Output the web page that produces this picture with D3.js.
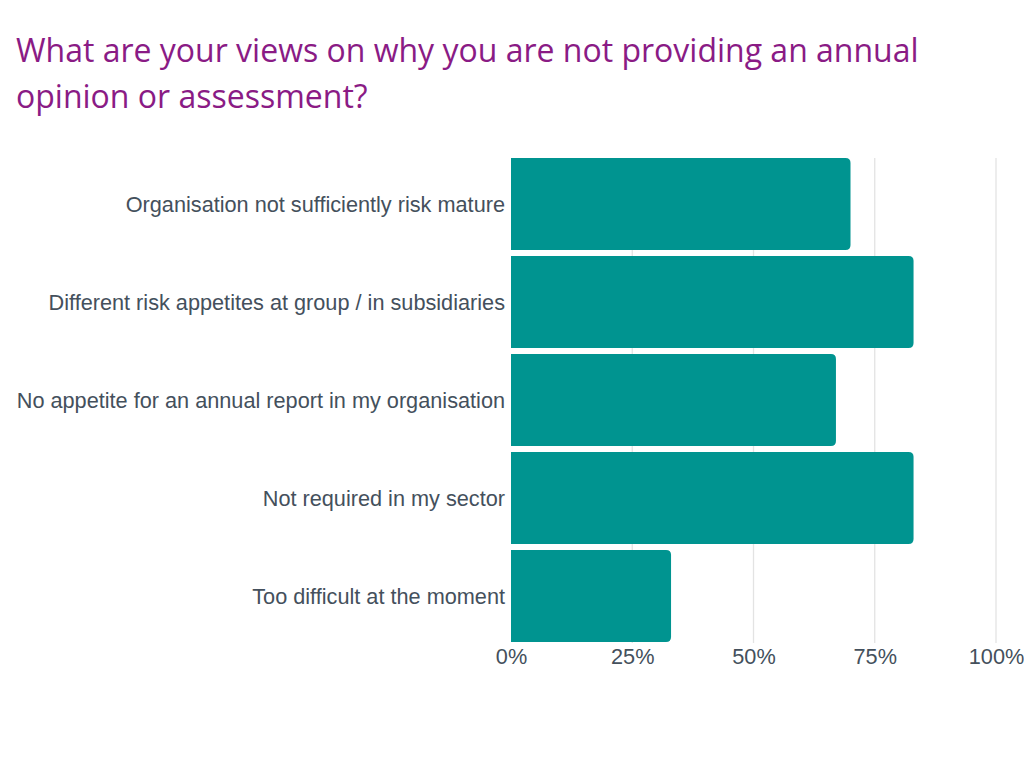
<!DOCTYPE html>
<html><head><meta charset="utf-8">
<script src="https://cdn.jsdelivr.net/npm/d3@7"></script>
<style>body{margin:0;background:#fff;} svg{display:block;}</style>
</head><body>
<svg id="c" width="1024" height="768"></svg>
<script>
const categories = [
  "Organisation not sufficiently risk mature",
  "Different risk appetites at group / in subsidiaries",
  "No appetite for an annual report in my organisation",
  "Not required in my sector",
  "Too difficult at the moment"
];
const values = [70, 83, 67, 83, 33];
const ticks = [0, 25, 50, 75, 100];
const titleLines = ["What are your views on why you are not providing an annual", "opinion or assessment?"];

const svg = d3.select("#c");
const m = {left: 511, right: 996, top: 158, bottom: 643};
const x = d3.scaleLinear().domain([0, 100]).range([m.left, m.right]);
const y = d3.scaleBand().domain(categories).range([m.top, 642]).paddingInner(0.0612).paddingOuter(0);

svg.append("g").selectAll("text").data(titleLines).join("text")
  .attr("x", 16).attr("y", (d, i) => 62 + i * 46)
  .attr("font-family", "'Open Sans', sans-serif").attr("font-size", 32)
  .attr("fill", "#8a1b85").text(d => d);

svg.append("g").selectAll("line").data(ticks.slice(1)).join("line")
  .attr("x1", d => x(d)).attr("x2", d => x(d))
  .attr("y1", m.top).attr("y2", m.bottom)
  .attr("stroke", "#e3e3e3").attr("stroke-width", 1.3);

const r = 5;
svg.append("g").selectAll("path").data(values).join("path")
  .attr("fill", "#009490")
  .attr("d", (d, i) => {
    const x0 = x(0), x1 = x(d), y0 = y(categories[i]), h = y.bandwidth();
    return `M${x0},${y0}H${x1 - r}Q${x1},${y0} ${x1},${y0 + r}V${y0 + h - r}Q${x1},${y0 + h} ${x1 - r},${y0 + h}H${x0}Z`;
  });

svg.append("g").selectAll("text").data(categories).join("text")
  .attr("x", 505).attr("y", d => y(d) + y.bandwidth() / 2)
  .attr("dy", "0.35em").attr("text-anchor", "end")
  .attr("font-family", "'Liberation Sans', Arial, sans-serif").attr("font-size", 21.7)
  .attr("fill", "#44505c").text(d => d);

const xAxis = d3.axisBottom(x).tickValues(ticks).tickFormat(d => d + "%").tickSize(0).tickPadding(6);
const gx = svg.append("g").attr("transform", `translate(0,${m.bottom})`).call(xAxis);
gx.select(".domain").remove();
gx.selectAll("text").attr("font-family", "'Liberation Sans', Arial, sans-serif")
  .attr("font-size", 21.7).attr("fill", "#44505c");
</script>
</body></html>
